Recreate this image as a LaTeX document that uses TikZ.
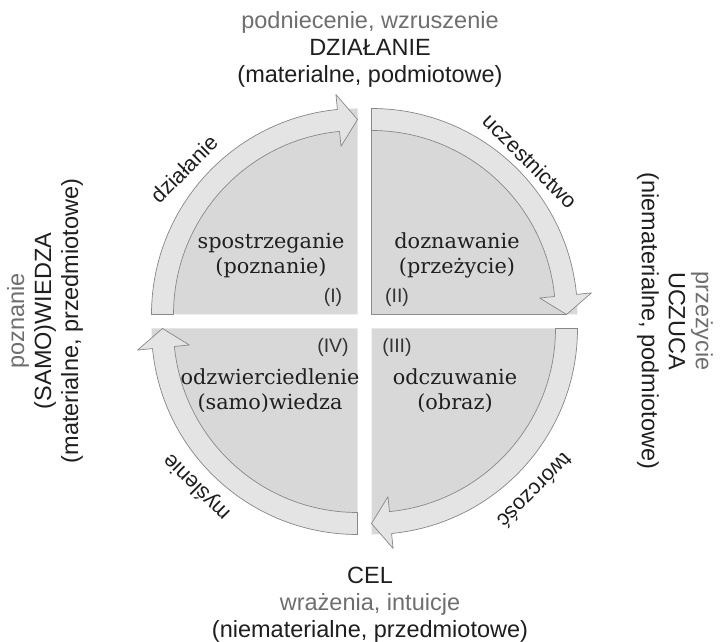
\documentclass[tikz,border=0pt]{standalone}
\usepackage{fontspec}
\setmainfont{Liberation Sans}
\newfontfamily\quadfont{DejaVu Serif}

\definecolor{quadfill}{HTML}{D8D8D8}
\definecolor{bandfill}{HTML}{E4E4E4}
\definecolor{bandline}{HTML}{888888}
\definecolor{softgray}{HTML}{6E6E6E}
\definecolor{inktext}{HTML}{1E1E1E}

\tikzset{
  quarter/.style={fill=quadfill, draw=none},
  band/.style={fill=bandfill, draw=bandline, line width=0.7pt, line join=round},
  sidetext/.style={align=center, font=\fontsize{23.5}{27}\selectfont, text=inktext, inner sep=0pt},
  arclabel/.style={font=\fontsize{21.5}{24}\selectfont, text=inktext, inner sep=0pt},
  numlabel/.style={font=\fontsize{19.5}{24}\selectfont, text=black!80, inner sep=0pt},
  quadtext/.style={align=center, font=\quadfont\fontsize{20.8}{25}\selectfont, text=black!88, inner sep=0pt},
}

% one quarter of the cycle: outer arc, arrow head, inner arc back to the tail
% #1 corner, #2 tail angle, #3 tip angle, #4 angle of the head base
\newcommand\flowband[4]{%
  \draw[band] ([shift={(#2:206pt)}]#1)
    arc[start angle=#2, end angle=#4, radius=206pt]
    -- ([shift={(#4:221pt)}]#1)
    -- ([shift={(#3:195pt)}]#1)
    -- ([shift={(#4:169pt)}]#1)
    -- ([shift={(#4:184pt)}]#1)
    arc[start angle=#4, end angle=#2, radius=184pt]
    -- cycle;}

\newcommand\quarterdisc[3]{%
  \fill[quarter] (#1) -- ([shift={(#2:206pt)}]#1)
    arc[start angle=#2, end angle=#3, radius=206pt] -- cycle;}

\begin{document}
\begin{tikzpicture}[x=1pt, y=1pt]
  \useasboundingbox (0,0) rectangle (720,642);

  % corners of the four quarters
  \coordinate (UL) at (357.5,327.5);
  \coordinate (UR) at (371.5,327.5);
  \coordinate (LL) at (357.5,313.5);
  \coordinate (LR) at (371.5,313.5);

  % quarter discs
  \quarterdisc{UL}{180}{90}
  \quarterdisc{UR}{90}{0}
  \quarterdisc{LL}{270}{180}
  \quarterdisc{LR}{0}{-90}

  % thin edge of the upper right quarter
  \draw[black!45, line width=0.6pt] ([shift={(90:206pt)}]UR) -- (UR) -- ([shift={(0:195pt)}]UR);

  % clockwise flow arrows
  \flowband{UL}{180}{90}{95.6}
  \flowband{UR}{90}{0}{5.6}
  \flowband{LR}{0}{-90}{-84.4}
  \flowband{LL}{-90}{-180}{-174.4}

  % texts inside the quarters
  \node[quadtext] (s1) at (271,386.5) {spostrzeganie\\(poznanie)};
  \node[quadtext] (s2) at (457,386.5) {doznawanie\\(przeżycie)};
  \node[quadtext] (s3) at (455,251)   {odczuwanie\\(obraz)};
  \node[quadtext] (s4) at (270,251)   {odzwierciedlenie\\(samo)wiedza};

  % quarter numbers
  \node[numlabel] (n1) at (333,345) {(I)};
  \node[numlabel] (n2) at (397,345) {(II)};
  \node[numlabel] (n3) at (397,295) {(III)};
  \node[numlabel] (n4) at (333,295) {(IV)};

  % labels along the arcs
  \node[arclabel, rotate=45]   (a1) at (184,473) {działanie};
  \node[arclabel, rotate=-45]  (a2) at (530,481) {uczestnictwo};
  \node[arclabel, rotate=-135] (a3) at (535,151) {twórczość};
  \node[arclabel, rotate=135]  (a4) at (197,155) {myślenie};

  % outer descriptions
  \node[sidetext] (top) at (370,592.5)
    {\textcolor{softgray}{podniecenie, wzruszenie}\\DZIAŁANIE\\(materialne, podmiotowe)};
  \node[sidetext] (bottom) at (370,37.5)
    {CEL\\\textcolor{softgray}{wrażenia, intuicje}\\(niematerialne, przedmiotowe)};
  \node[sidetext, rotate=90] (left) at (45,321)
    {\textcolor{softgray}{poznanie}\\(SAMO)WIEDZA\\(materialne, przedmiotowe)};
  \node[sidetext, rotate=-90] (right) at (675,321)
    {\textcolor{softgray}{przeżycie}\\UCZUCA\\(niematerialne, podmiotowe)};
\end{tikzpicture}
\end{document}
